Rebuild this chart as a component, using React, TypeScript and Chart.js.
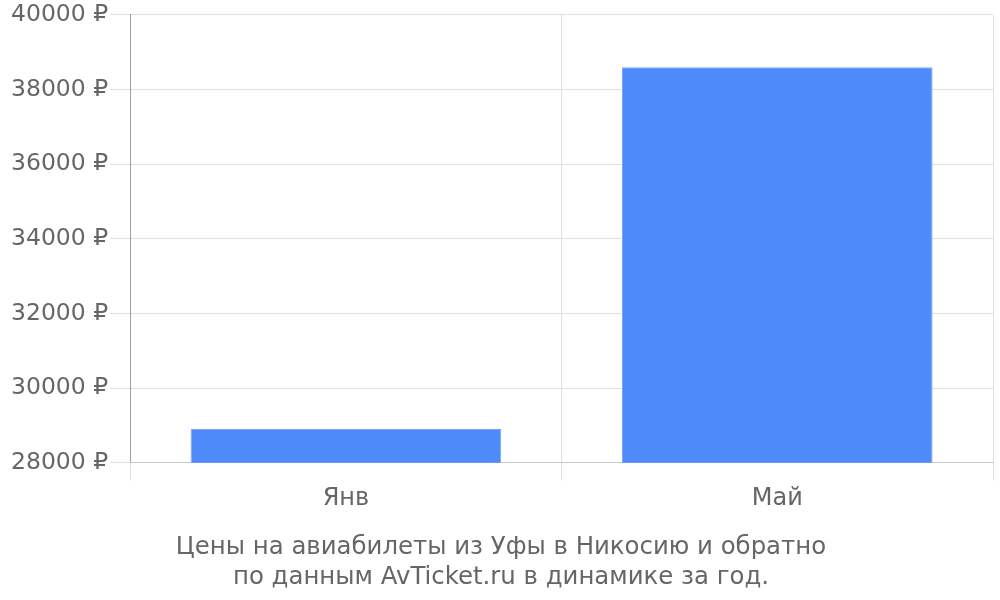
import { useEffect, useRef } from 'react';
import Chart from 'chart.js/auto';

const months = ['Янв', 'Май'];
const prices = [28900, 38600];
const titleLines = ['Цены на авиабилеты из Уфы в Никосию и обратно', 'по данным AvTicket.ru в динамике за год.'];

const App = () => {
  const chartRef = useRef<HTMLCanvasElement>(null);
  const chartInstance = useRef<Chart | null>(null);

  useEffect(() => {
    document.body.style.margin = '0';
    const canvas = chartRef.current;
    if (!canvas) return;
    const ctx = canvas.getContext('2d');
    if (!ctx) return;
    if (chartInstance.current) chartInstance.current.destroy();

    chartInstance.current = new Chart(ctx, {
      type: 'bar',
      data: {
        labels: months,
        datasets: [{
          data: prices,
          backgroundColor: '#4e8af9',
          borderColor: '#7aa7fb',
          borderWidth: 1,
        }]
      },
      options: {
        animation: false,
        responsive: true,
        maintainAspectRatio: false,
        layout: { padding: { top: 1, right: 7, left: 9, bottom: 0 } },
        plugins: {
          legend: { display: false },
          tooltip: { enabled: false },
          title: {
            display: true,
            position: 'bottom',
            text: titleLines,
            color: '#666',
            font: { family: 'DejaVu Sans', size: 24.4, weight: 'normal', lineHeight: 1.2 },
            padding: { top: 16, bottom: 8 }
          }
        },
        scales: {
          y: {
            min: 28000,
            max: 40000,
            ticks: {
              stepSize: 2000,
              color: '#666',
              padding: 2,
              font: { family: 'DejaVu Sans', size: 23.5, lineHeight: 1.1 },
              callback: (v: any) => v + ' ₽'
            },
            grid: { color: '#e0e0e0', tickLength: 20 },
            border: { color: '#a0a0a0' }
          },
          x: {
            ticks: {
              color: '#666',
              padding: 4,
              font: { family: 'DejaVu Sans', size: 24 }
            },
            grid: { color: '#e0e0e0', tickLength: 18 },
            border: { color: '#c8c8c8' }
          }
        }
      }
    });

    return () => {
      if (chartInstance.current) {
        chartInstance.current.destroy();
        chartInstance.current = null;
      }
    };
  }, []);

  return (
    <div style={{ width: '1000px', height: '600px', position: 'relative' }}>
      <canvas ref={chartRef}></canvas>
    </div>
  );
};

export default App;
